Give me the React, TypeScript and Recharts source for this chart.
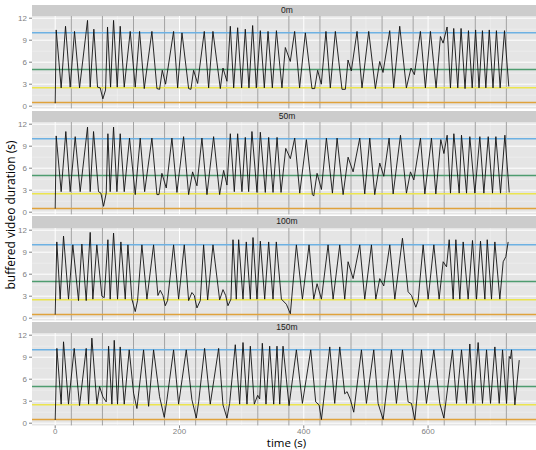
import { LineChart, Line, XAxis, YAxis, ReferenceLine, ReferenceArea } from "recharts";

// buffered video duration per facet, [time (s), buffer (s)]
const buffer0m: [number, number][] = [
  [0, 0.4], [1.6, 10.4], [9.6, 2.5], [16.6, 10.9], [24.1, 2.6], [31.1, 10.2], [39.2, 2.5], [52, 11.7],
  [56.3, 2.6], [62.2, 10.5], [68.1, 2.6], [72.4, 2.5], [76.7, 1.0], [81, 2.2], [84.2, 10.8], [89.1, 2.6],
  [93.9, 11.7], [99.8, 2.6], [104.6, 10.9], [111.1, 2.6], [120.7, 10.2], [128.8, 2.6], [135.8, 10.2],
  [143.3, 2.4], [155.6, 10.2], [163.7, 2.4], [168, 2.3], [172.3, 4.9], [177.6, 3.0], [190.5, 10.2],
  [197, 2.5], [204, 10.0], [214.7, 2.4], [218.4, 2.3], [222.7, 4.9], [229.2, 3.1], [239.9, 10.2],
  [246.9, 2.5], [253.8, 10.2], [265.7, 2.4], [270, 5.2], [276.4, 3.4], [281.8, 10.9], [287.2, 2.5],
  [293.6, 10.7], [300, 2.5], [305.9, 10.5], [311.8, 2.5], [317.7, 11.0], [323.6, 2.5], [330.1, 10.3],
  [336.5, 2.5], [342.5, 10.2], [349.4, 2.5], [356, 10.3], [364.9, 2.5], [370.3, 8.0], [378.3, 6.1],
  [385.3, 10.2], [393.3, 2.5], [402.5, 10.0], [413.2, 2.4], [417.5, 2.4], [422.3, 4.9], [428.2, 3.0],
  [435.7, 10.2], [442.7, 2.5], [450.8, 10.2], [461.5, 2.3], [466.9, 2.3], [471.2, 6.3], [476.5, 4.8],
  [485.7, 10.2], [493.7, 2.5], [504.5, 10.2], [515.2, 2.4], [522.2, 6.1], [527.5, 4.6], [538.3, 10.3],
  [544.7, 2.5], [554.4, 10.9], [565.1, 2.5], [572.6, 5.2], [578, 4.3], [587.7, 10.2], [595.7, 2.5],
  [603.8, 10.2], [612.9, 2.5], [619.9, 9.5], [624.2, 8.6], [630.6, 10.8], [636, 2.5], [641.3, 10.6],
  [647.8, 2.5], [653.1, 10.6], [659.5, 2.4], [665, 10.3], [671, 2.5], [676.5, 10.4], [682, 2.5],
  [687.5, 10.3], [693, 2.5], [698.5, 10.4], [704.5, 2.5], [710, 10.3], [716, 2.5], [723, 10.3], [729.9, 2.7],
];

const buffer50m: [number, number][] = [
  [0, 0.5], [1.6, 10.4], [9.6, 2.8], [17.1, 11.0], [24.1, 2.8], [32.2, 10.3], [40.2, 2.8], [52, 11.6],
  [56.3, 2.8], [61.7, 11.0], [69.7, 2.8], [73.5, 2.6], [77.8, 0.8], [82.1, 2.6], [84.8, 10.7], [88.5, 2.8],
  [93.9, 11.6], [99.3, 2.8], [104.6, 10.7], [111.1, 2.8], [119.6, 10.1], [128.8, 2.4], [136.8, 10.1],
  [143.9, 2.8], [155.6, 10.1], [163.7, 2.4], [167, 2.4], [171.7, 5.3], [178.7, 3.3], [187.8, 10.1],
  [195.9, 2.7], [206.6, 10.3], [214.7, 2.4], [221.1, 5.5], [228.1, 3.6], [236.1, 10.1], [244.2, 2.4],
  [254.9, 10.3], [264.6, 2.4], [271, 5.7], [276.4, 3.7], [281.8, 10.7], [288.2, 2.8], [293.6, 10.7],
  [300.5, 2.8], [305.9, 10.2], [311.3, 2.8], [316.6, 11.0], [324.7, 2.7], [330.1, 10.9], [338.1, 2.7],
  [343.5, 10.2], [350.5, 2.7], [357, 10.2], [363.4, 2.7], [371, 8.7], [378.4, 7.3], [385.4, 10.1],
  [393.5, 2.6], [404.2, 9.9], [413.9, 2.4], [416, 2.2], [421.4, 5.3], [428.4, 3.1], [436.4, 10.1],
  [446.1, 2.6], [453.6, 10.1], [463.3, 2.4], [471.3, 7.5], [479.4, 5.5], [490.1, 10.1], [498.1, 2.5],
  [506.2, 10.1], [514.2, 2.4], [522.3, 6.7], [528.7, 4.9], [537.3, 10.1], [543.8, 2.5], [555.6, 10.5],
  [565.2, 2.6], [571.7, 5.5], [577.1, 4.4], [587.8, 10.1], [594.8, 2.5], [605.5, 10.1], [612.5, 2.5],
  [620.5, 9.9], [625.5, 8.0], [630.7, 10.5], [636.1, 2.6], [641.5, 10.7], [650.1, 2.6], [653.8, 10.5],
  [661.9, 2.6], [667.2, 10.3], [675.3, 2.6], [683.3, 10.3], [689.8, 2.6], [696.8, 10.3], [703.7, 2.6],
  [709.1, 10.3], [716.6, 2.6], [723.6, 10.5], [730.6, 2.7],
];

const buffer100m: [number, number][] = [
  [0, 0.5], [2.6, 10.4], [8, 2.6], [13.4, 11.2], [21.4, 2.6], [28.4, 10.0], [37.5, 2.4], [42.9, 10.1],
  [49.9, 2.4], [56.3, 11.7], [60.6, 2.6], [67, 10.0], [75.1, 3.0], [78.9, 2.8], [84.8, 10.7], [88.5, 2.6],
  [93.9, 11.6], [100.3, 2.6], [105.7, 10.4], [112.7, 2.6], [117, 10.0], [123.4, 2.6], [128.8, 0.9],
  [132.5, 2.4], [139.5, 10.0], [147.6, 2.6], [158.3, 10.0], [165.3, 3.1], [169, 3.8], [173.3, 3.1],
  [177.1, 1.7], [180.8, 2.4], [190.5, 10.0], [198.6, 2.6], [207.7, 10.0], [214.7, 2.4], [220, 3.5],
  [223.8, 3.1], [228.1, 1.4], [233.5, 2.4], [238.8, 10.0], [245.3, 2.5], [253.9, 10.0], [264.6, 2.5],
  [270, 3.9], [274.3, 3.1], [278, 1.7], [282.8, 2.6], [286.1, 10.7], [291.4, 2.6], [295.2, 10.7],
  [302.2, 2.6], [307.5, 10.4], [314, 2.6], [318.3, 11.0], [324.7, 2.6], [330.1, 10.5], [337.1, 2.6],
  [343.5, 10.4], [350.5, 2.6], [355.8, 10.4], [364, 2.6], [372, 1.9], [378.4, 0.6], [388.1, 10.0],
  [397.8, 2.6], [408.5, 10.0], [416, 2.6], [421.4, 4.7], [428.4, 2.6], [439.1, 10.0], [447.2, 2.6],
  [457.9, 10.0], [465.9, 2.6], [471.3, 7.7], [479.4, 5.4], [490.1, 10.0], [498.1, 2.6], [508.9, 10.0],
  [515.9, 2.6], [522.3, 5.4], [528.7, 4.4], [538.4, 10.0], [546.5, 2.6], [558.8, 10.9], [567.9, 3.6],
  [573.3, 3.1], [580.3, 1.5], [584, 2.4], [592.1, 10.0], [600.1, 2.6], [609.3, 10.0], [617.8, 2.6],
  [624.3, 7.7], [629.7, 7.0], [634, 10.7], [640.4, 2.6], [644.7, 10.7], [651.1, 2.6], [656.5, 10.4],
  [664.5, 2.6], [671.5, 10.6], [678, 2.6], [684.4, 10.5], [691.4, 2.6], [695.2, 10.7], [702.1, 2.6],
  [707.5, 10.4], [715.5, 2.6], [720.9, 7.7], [725.2, 8.4], [728.9, 10.4],
];

const buffer150m: [number, number][] = [
  [0, 0.45], [2.7, 10.2], [9.6, 2.6], [13.4, 11.1], [21.4, 2.6], [30.6, 10.2], [39.2, 2.4], [49.9, 10.2],
  [53.7, 2.6], [59, 11.6], [67.1, 2.6], [71.4, 5.0], [76.7, 3.6], [82.1, 2.9], [85.9, 10.5], [91.2, 2.6],
  [95, 11.3], [100.3, 2.6], [104.6, 10.4], [111.1, 2.6], [119.1, 10.0], [126.1, 4.1], [131.5, 2.0],
  [142.2, 10.0], [150.3, 2.3], [158.3, 10.0], [168, 3.6], [175.5, 0.8], [179.8, 3.2], [190.5, 10.0],
  [198.6, 2.6], [210.9, 10.0], [220, 3.2], [227, 0.7], [230.8, 2.9], [240.4, 10.2], [249.5, 2.6],
  [263, 10.2], [270, 2.5], [276.4, 0.7], [280.7, 2.7], [289.8, 10.7], [296.8, 2.6], [302.2, 11.0],
  [308.6, 2.6], [314, 10.5], [320.4, 2.6], [325.8, 3.8], [329, 3.3], [333.3, 10.9], [339.2, 2.6],
  [345.1, 10.5], [351.6, 2.6], [356.9, 10.5], [361.3, 2.6], [366.6, 10.5], [376.3, 2.4], [388.1, 10.0],
  [397.8, 2.7], [411.2, 10.0], [419.2, 2.9], [424.6, 2.5], [428.4, 0.5], [441.8, 10.4], [449.8, 2.7],
  [457.9, 10.4], [465.9, 4.0], [469.7, 4.3], [475.1, 3.2], [480.4, 1.5], [492.8, 10.0], [500.8, 2.7],
  [512.6, 10.0], [519.6, 2.7], [527.7, 0.5], [541.1, 10.0], [549.1, 2.7], [558.8, 10.0], [567.9, 2.9],
  [573.3, 2.7], [578.7, 0.45], [589.4, 10.0], [597.4, 2.7], [609.3, 10.0], [618.9, 2.7], [625.4, 0.7],
  [639.3, 10.0], [645.8, 2.7], [653.8, 10.0], [661.8, 2.7], [667.2, 10.8], [672.6, 2.7], [680.6, 11.0],
  [687.6, 2.7], [694.1, 10.0], [700.5, 2.7], [707.5, 10.4], [714.5, 2.7], [719.8, 10.0], [726.3, 2.7],
  [730.6, 9.1], [732.5, 8.8], [734.3, 10.0], [739.7, 2.5], [746.7, 8.6],
];

const facetLabels = ["0m", "50m", "100m", "150m"];
const facetSeries = [buffer0m, buffer50m, buffer100m, buffer150m];

// times of the grey vertical markers
const eventTimes = [26, 76, 126, 176, 226, 276, 326, 376, 426, 476, 526, 576, 626, 676, 726];

const thresholds = [10, 5, 2.5, 0.5];
const thresholdColors = ["#6DB1E3", "#4E9C6F", "#ECE54E", "#E0A23C"];

const yTicks = [0, 3, 6, 9, 12];
const yMinor = [1.5, 4.5, 7.5, 10.5];
const xTicks = [0, 200, 400, 600];
const xMinor = [100, 300, 500, 700];

const X_DOMAIN: [number, number] = [-37.3, 783.3];
const Y_DOMAIN: [number, number] = [-0.3, 12.3];

const FIRST_TOP = 5;
const STEP = 105.6;
const STRIP_H = 11.4;
const PANEL_H = 92.4;
const PAD = 5; // room above/below the panel so tick labels are not clipped
const CHART_W = 542;
const AXIS_W = 32;

const tickFont = { fontSize: 8, fill: "#7F7F7F", fontFamily: "Liberation Sans, sans-serif" };

function Facet({ label, series, index, last }: { label: string; series: [number, number][]; index: number; last: boolean }) {
  const data = series.map(([t, v]) => ({ t, v }));
  const top = FIRST_TOP + index * STEP;
  return (
    <>
      <div
        style={{
          position: "absolute",
          left: AXIS_W,
          top,
          width: CHART_W - AXIS_W,
          height: STRIP_H,
          background: "#CCCCCC",
          color: "#1A1A1A",
          fontSize: 8.5,
          lineHeight: `${STRIP_H}px`,
          textAlign: "center",
          fontFamily: "Liberation Sans, sans-serif",
        }}
      >
        {label}
      </div>
      <div style={{ position: "absolute", left: 0, top: top + STRIP_H - PAD }}>
        <LineChart
          width={CHART_W}
          height={PANEL_H + PAD + (last ? 15 : PAD)}
          data={data}
          margin={{ top: PAD, right: 0, bottom: last ? 0 : PAD, left: 0 }}
        >
          <XAxis
            type="number"
            dataKey="t"
            domain={X_DOMAIN}
            ticks={xTicks}
            interval={0}
            allowDataOverflow
            hide={!last}
            height={15}
            tickSize={3}
            tickMargin={0}
            axisLine={false}
            tickLine={{ stroke: "#7F7F7F" }}
            tick={tickFont}
          />
          <YAxis
            type="number"
            domain={Y_DOMAIN}
            ticks={yTicks}
            interval={0}
            allowDataOverflow
            width={AXIS_W}
            tickSize={3}
            tickMargin={2}
            axisLine={false}
            tickLine={{ stroke: "#7F7F7F" }}
            tick={tickFont}
          />
          <ReferenceArea
            x1={X_DOMAIN[0]}
            x2={X_DOMAIN[1]}
            y1={Y_DOMAIN[0]}
            y2={Y_DOMAIN[1]}
            fill="#E5E5E5"
            fillOpacity={1}
            stroke="none"
          />
          {yMinor.map((y) => (
            <ReferenceLine key={`ym${y}`} y={y} stroke="#F2F2F2" strokeWidth={0.6} />
          ))}
          {xMinor.map((x) => (
            <ReferenceLine key={`xm${x}`} x={x} stroke="#F2F2F2" strokeWidth={0.6} />
          ))}
          {yTicks.map((y) => (
            <ReferenceLine key={`y${y}`} y={y} stroke="#FFFFFF" strokeWidth={1} />
          ))}
          {xTicks.map((x) => (
            <ReferenceLine key={`x${x}`} x={x} stroke="#FFFFFF" strokeWidth={1} />
          ))}
          {eventTimes.map((x) => (
            <ReferenceLine key={`e${x}`} x={x} stroke="#A3A3A3" strokeWidth={1} />
          ))}
          {thresholds.map((y, i) => (
            <ReferenceLine key={`h${y}`} y={y} stroke={thresholdColors[i]} strokeWidth={1.5} />
          ))}
          <Line
            type="linear"
            dataKey="v"
            stroke="#111111"
            strokeWidth={0.9}
            dot={false}
            isAnimationActive={false}
          />
        </LineChart>
      </div>
    </>
  );
}

export default function App() {
  return (
    <div
      style={{
        position: "fixed",
        left: 0,
        top: 0,
        width: 536,
        height: 450,
        overflow: "hidden",
        background: "#FFFFFF",
      }}
    >
      {facetSeries.map((series, i) => (
        <Facet
          key={facetLabels[i]}
          label={facetLabels[i]}
          series={series}
          index={i}
          last={i === facetSeries.length - 1}
        />
      ))}
      <div
        style={{
          position: "absolute",
          left: 10,
          top: 215,
          transform: "translate(-50%, -50%) rotate(-90deg)",
          whiteSpace: "nowrap",
          fontSize: 12,
          fontFamily: "Open Sans, sans-serif",
          color: "#000",
        }}
      >
        buffered video duration (s)
      </div>
      <div
        style={{
          position: "absolute",
          left: 286.5,
          top: 443,
          transform: "translate(-50%, -50%)",
          whiteSpace: "nowrap",
          fontSize: 11.5,
          lineHeight: "12px",
          fontFamily: "Open Sans, sans-serif",
          color: "#000",
        }}
      >
        time (s)
      </div>
    </div>
  );
}
